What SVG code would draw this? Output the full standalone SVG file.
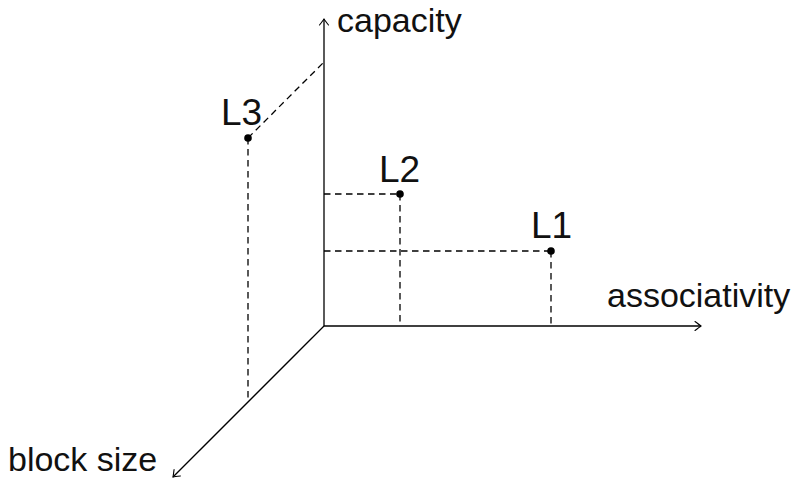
<svg xmlns="http://www.w3.org/2000/svg" width="798" height="495" viewBox="0 0 798 495">
<defs>
<marker id="arr" viewBox="-8 -6 10 12" markerWidth="10" markerHeight="12" refX="0" refY="0" orient="auto" markerUnits="userSpaceOnUse">
<path d="M-6,-4.5 Q-1.5,-1 0,0 Q-1.5,1 -6,4.5" fill="none" stroke="#000" stroke-width="1.1" stroke-linecap="round"/>
</marker>
<style>
.axis{stroke:#000;stroke-width:1.3;fill:none}
.dash{stroke:#000;stroke-width:1.3;fill:none;stroke-dasharray:6.5 4.5}
.lbl{font-family:"Liberation Sans",Arial,sans-serif;font-size:34px;fill:#111}
.pt{font-family:"Liberation Sans",Arial,sans-serif;font-size:37px;fill:#111}
.dot{fill:#000}
</style>
</defs>
<rect width="798" height="495" fill="#fff"/>
<g id="connectors">
<line class="axis" x1="324" y1="326" x2="324" y2="19" marker-end="url(#arr)"/>
<line class="axis" x1="324" y1="326" x2="701" y2="326" marker-end="url(#arr)"/>
<line class="axis" x1="324" y1="326" x2="173" y2="477" marker-end="url(#arr)"/>
<line class="dash" x1="248" y1="138" x2="248" y2="402"/>
<line class="dash" x1="248" y1="138" x2="324" y2="62"/>
<line class="dash" x1="324" y1="194" x2="400" y2="194"/>
<line class="dash" x1="400" y1="194" x2="400" y2="326"/>
<line class="dash" x1="324" y1="251" x2="551" y2="251"/>
<line class="dash" x1="551" y1="251" x2="551" y2="326"/>
</g>
<g id="axis-labels">
<text class="lbl" x="337" y="32">capacity</text>
<text class="lbl" x="607" y="307">associativity</text>
<text class="lbl" x="8" y="471">block size</text>
</g>
<g id="L3"><circle class="dot" cx="248" cy="138" r="3.8"/><text class="pt" x="221" y="125">L3</text></g>
<g id="L2"><circle class="dot" cx="400" cy="194" r="3.8"/><text class="pt" x="379" y="182">L2</text></g>
<g id="L1"><circle class="dot" cx="551" cy="251" r="3.8"/><text class="pt" x="531" y="238">L1</text></g>
</svg>
